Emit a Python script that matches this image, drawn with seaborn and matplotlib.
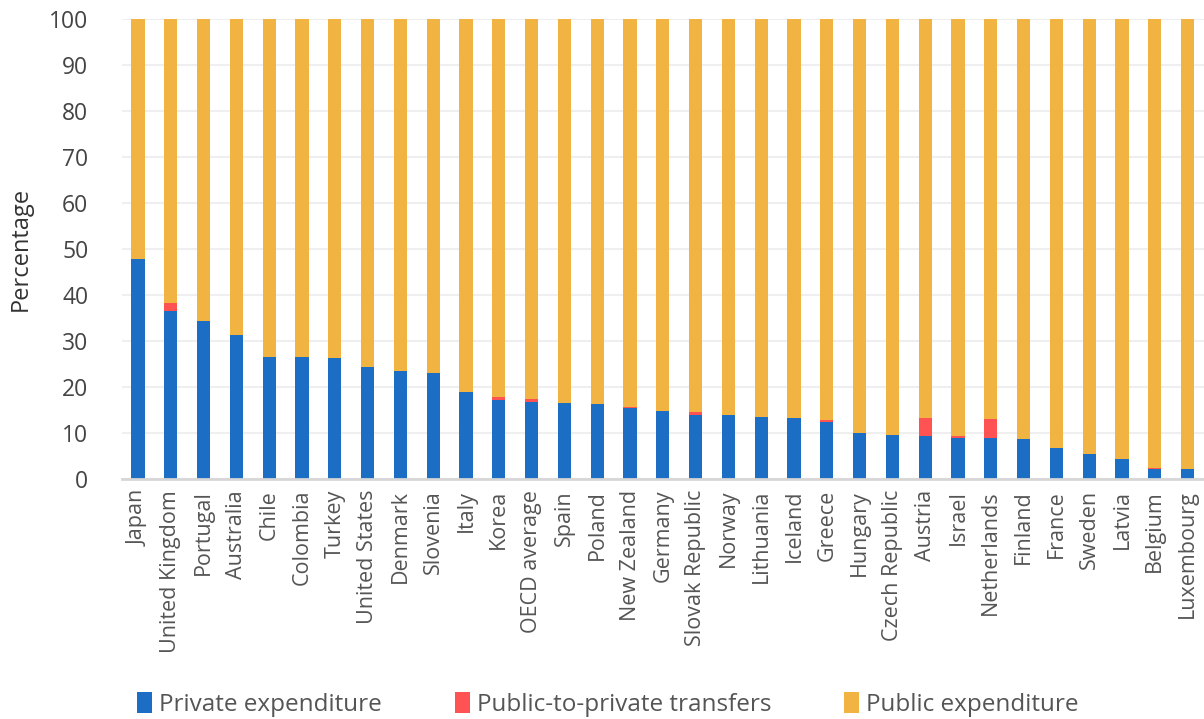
import matplotlib
matplotlib.use("Agg")
import matplotlib.pyplot as plt
from matplotlib.patches import Patch
import numpy as np
import pandas as pd
import seaborn as sns

countries = [
    "Japan", "United Kingdom", "Portugal", "Australia", "Chile", "Colombia",
    "Turkey", "United States", "Denmark", "Slovenia", "Italy", "Korea",
    "OECD average", "Spain", "Poland", "New Zealand", "Germany",
    "Slovak Republic", "Norway", "Lithuania", "Iceland", "Greece", "Hungary",
    "Czech Republic", "Austria", "Israel", "Netherlands", "Finland", "France",
    "Sweden", "Latvia", "Belgium", "Luxembourg",
]
private_exp = [
    47.8, 36.4, 34.2, 31.2, 26.4, 26.4, 26.3, 24.2, 23.5, 23.1, 18.8, 17.1,
    16.8, 16.5, 16.3, 15.5, 14.8, 13.8, 13.8, 13.4, 13.2, 12.3, 9.9, 9.6,
    9.4, 8.9, 8.8, 8.7, 6.6, 5.5, 4.3, 2.1, 2.1,
]
transfers = [
    0.0, 1.9, 0.0, 0.0, 0.0, 0.0, 0.0, 0.0, 0.0, 0.0, 0.0, 0.6,
    0.6, 0.0, 0.0, 0.1, 0.0, 0.8, 0.0, 0.0, 0.0, 0.4, 0.0, 0.0,
    3.9, 0.5, 4.2, 0.0, 0.0, 0.0, 0.0, 0.3, 0.0,
]
public_exp = [round(100 - p - t, 1) for p, t in zip(private_exp, transfers)]
yticks = list(range(0, 101, 10))

series_names = ["Private expenditure", "Public-to-private transfers", "Public expenditure"]
colors = ["#1C6DC4", "#FF5252", "#F1B342"]

df = pd.DataFrame({
    "country": countries,
    "private": private_exp,
    "transfers": transfers,
    "public": public_exp,
})
df["level1"] = df["private"]
df["level2"] = df["private"] + df["transfers"]
df["level3"] = df["level2"] + df["public"]

sns.set_theme(style="white")
plt.rcParams["font.family"] = ["Open Sans", "DejaVu Sans"]

fig = plt.figure(figsize=(12.04, 7.19), dpi=100)
ax = fig.add_axes([0.101, 0.334, 0.899, 0.64])

# Stack by overdrawing cumulative heights, tallest first
for col, color in [("level3", colors[2]), ("level2", colors[1]), ("level1", colors[0])]:
    sns.barplot(data=df, x="country", y=col, color=color, width=0.4,
                saturation=1, ax=ax, edgecolor="none", linewidth=0)

ax.set_xlim(-0.5, len(countries) - 0.5)
ax.set_ylim(0, 100)
ax.set_yticks(yticks)
ax.yaxis.grid(True, color="#EFEFEF", linewidth=1.5)
ax.set_axisbelow(True)
for s in ["top", "right", "left"]:
    ax.spines[s].set_visible(False)
ax.spines["bottom"].set_color("#D6D6D6")
ax.spines["bottom"].set_linewidth(2)

ax.set_xlabel("")
ax.set_ylabel("Percentage", fontsize=17, color="#333333", labelpad=12)
ax.tick_params(axis="y", labelsize=16.5, labelcolor="#444444", length=0, pad=24)
ax.tick_params(axis="x", labelsize=15.5, labelcolor="#555555", length=0, pad=8)
ax.set_xticks(range(len(countries)))
ax.set_xticklabels(countries, rotation=90)

handles = [Patch(facecolor=c, edgecolor="none") for c in colors]
fig.legend(handles, series_names, loc="center", bbox_to_anchor=(0.505, 0.02),
           ncol=3, frameon=False, fontsize=17.5, handlelength=0.6, handleheight=0.9,
           handletextpad=0.3, columnspacing=3.0, labelcolor="#555555")

fig.savefig("out.png", dpi=100)
